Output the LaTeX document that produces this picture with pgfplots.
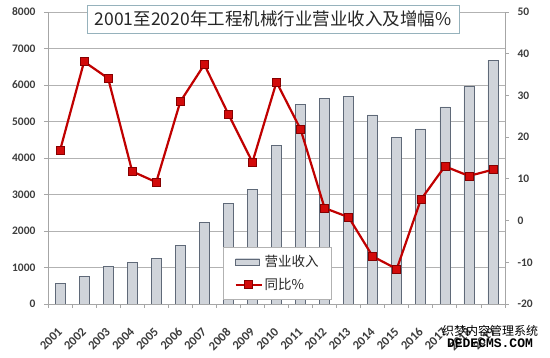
\documentclass[border=0pt]{standalone}
\usepackage{fontspec}
\setmainfont{Carlito}
\newfontfamily\cjk{Noto Sans CJK SC}
\newfontfamily\monofont{Liberation Mono}
\usepackage{pgfplots}
\pgfplotsset{compat=1.18}
\definecolor{barfill}{RGB}{208,212,218}
\definecolor{barmid}{RGB}{232,234,237}
\definecolor{bardraw}{RGB}{95,105,120}
\definecolor{linered}{RGB}{192,0,0}
\definecolor{markred}{RGB}{210,10,10}
\definecolor{titleborder}{RGB}{150,178,188}
\definecolor{tickgray}{RGB}{60,60,60}
\pgfplotsset{mylinelegend/.style={legend image code/.code={\draw[mark repeat=2,mark phase=2,##1] plot coordinates {(0pt,0pt) (13pt,0pt) (26pt,0pt)};}}}
\begin{document}
\begin{tikzpicture}
\path[use as bounding box] (0pt,0pt) rectangle (550pt,358pt);
\begin{axis}[
  at={(48pt,54pt)}, anchor=south west,
  scale only axis, width=457pt, height=292pt,
  xmin=-0.5, xmax=18.5, ymin=0, ymax=8000,
  axis line style={draw=gray!70, line width=0.8pt},
  axis x line*=bottom, axis y line*=left,
  ytick={0,1000,...,8000},
  ymajorgrids, grid style={draw=gray!60, line width=0.9pt},
  scaled y ticks=false,
  /pgf/number format/1000 sep={},
  /pgf/number format/assume math mode=true,
  tick align=outside, major tick length=4pt, minor tick length=4pt,
  xtick={0,...,18},
  xticklabels={2001,2002,2003,2004,2005,2006,2007,2008,2009,2010,2011,2012,2013,2014,2015,2016,2017,2018,2019},
  minor xtick={-0.5,0.5,...,18.5},
  major x tick style={draw=none},
  minor x tick style={draw=gray!70, line width=0.8pt},
  ytick style={draw=gray!70, line width=0.8pt},
  xticklabel style={xshift=-3pt, yshift=-14pt, rotate=45, anchor=north east, font=\bfseries\fontsize{12.5}{13}\selectfont, text=tickgray},
  yticklabel style={font=\bfseries\fontsize{11.5}{12}\selectfont, text=tickgray, xshift=-5pt},
]
\addplot[ybar, bar width=10pt, draw=bardraw, line width=0.7pt, left color=barfill, middle color=barmid, right color=barfill]
coordinates {(0,560) (1,760) (2,1035) (3,1150) (4,1245) (5,1610) (6,2225) (7,2760) (8,3150) (9,4350) (10,5460) (11,5630) (12,5680) (13,5180) (14,4570) (15,4795) (16,5400) (17,5965) (18,6680)};
\end{axis}
\begin{axis}[
  at={(48pt,54pt)}, anchor=south west,
  scale only axis, width=457pt, height=292pt,
  xmin=-0.5, xmax=18.5, ymin=-20, ymax=50,
  axis x line=none, axis y line*=right,
  axis line style={draw=gray!70, line width=0.8pt},
  ytick={-20,-10,...,50},
  tick align=outside, major tick length=4pt,
  ytick style={draw=gray!70, line width=0.8pt},
  /pgf/number format/assume math mode=true,
  yticklabel style={font=\bfseries\fontsize{11.5}{12}\selectfont, text=tickgray, xshift=5pt},
  legend cell align=left,
  legend style={at={(0.383,0.195)}, anchor=north west, draw=gray!60, line width=0.8pt, fill=white,
    font=\cjk\fontsize{13.5}{15}\selectfont, text=black!85, row sep=6pt, inner xsep=11pt, inner ysep=6pt},
]
\addlegendimage{legend image code/.code={\draw[left color=barfill, middle color=barmid, right color=barfill, draw=bardraw, line width=0.7pt] (0pt,-3pt) rectangle (24pt,3pt);}}
\addlegendentry{营业收入}
\addplot[linered, line width=2.2pt, mark=square*, mark size=4pt, mark options={fill=markred, draw=linered!70!black, line width=0.6pt}, mylinelegend]
coordinates {(0,16.8) (1,38.1) (2,34.1) (3,11.8) (4,9.2) (5,28.5) (6,37.4) (7,25.5) (8,14.0) (9,33.2) (10,21.9) (11,3.0) (12,0.8) (13,-8.6) (14,-11.6) (15,5.0) (16,13.0) (17,10.7) (18,12.2)};
\addlegendentry{同比\%}
\end{axis}
\node[draw=titleborder, line width=0.9pt, fill=white, minimum width=372pt, minimum height=28pt, inner sep=0pt,
  font=\cjk\fontsize{17.5}{20}\selectfont, text=black!85] at (273pt,339pt) {2001至2020年工程机械行业营业收入及增幅\%};
\node[anchor=center, inner sep=0pt, font=\cjk\fontsize{12}{12}\selectfont, text=black] at (490pt,27pt) {织梦内容管理系统};
\node[anchor=center, inner sep=0pt, font=\monofont\bfseries\fontsize{13}{13}\selectfont, text=black] at (490pt,15pt) {DEDECMS.COM};
\end{tikzpicture}
\end{document}
